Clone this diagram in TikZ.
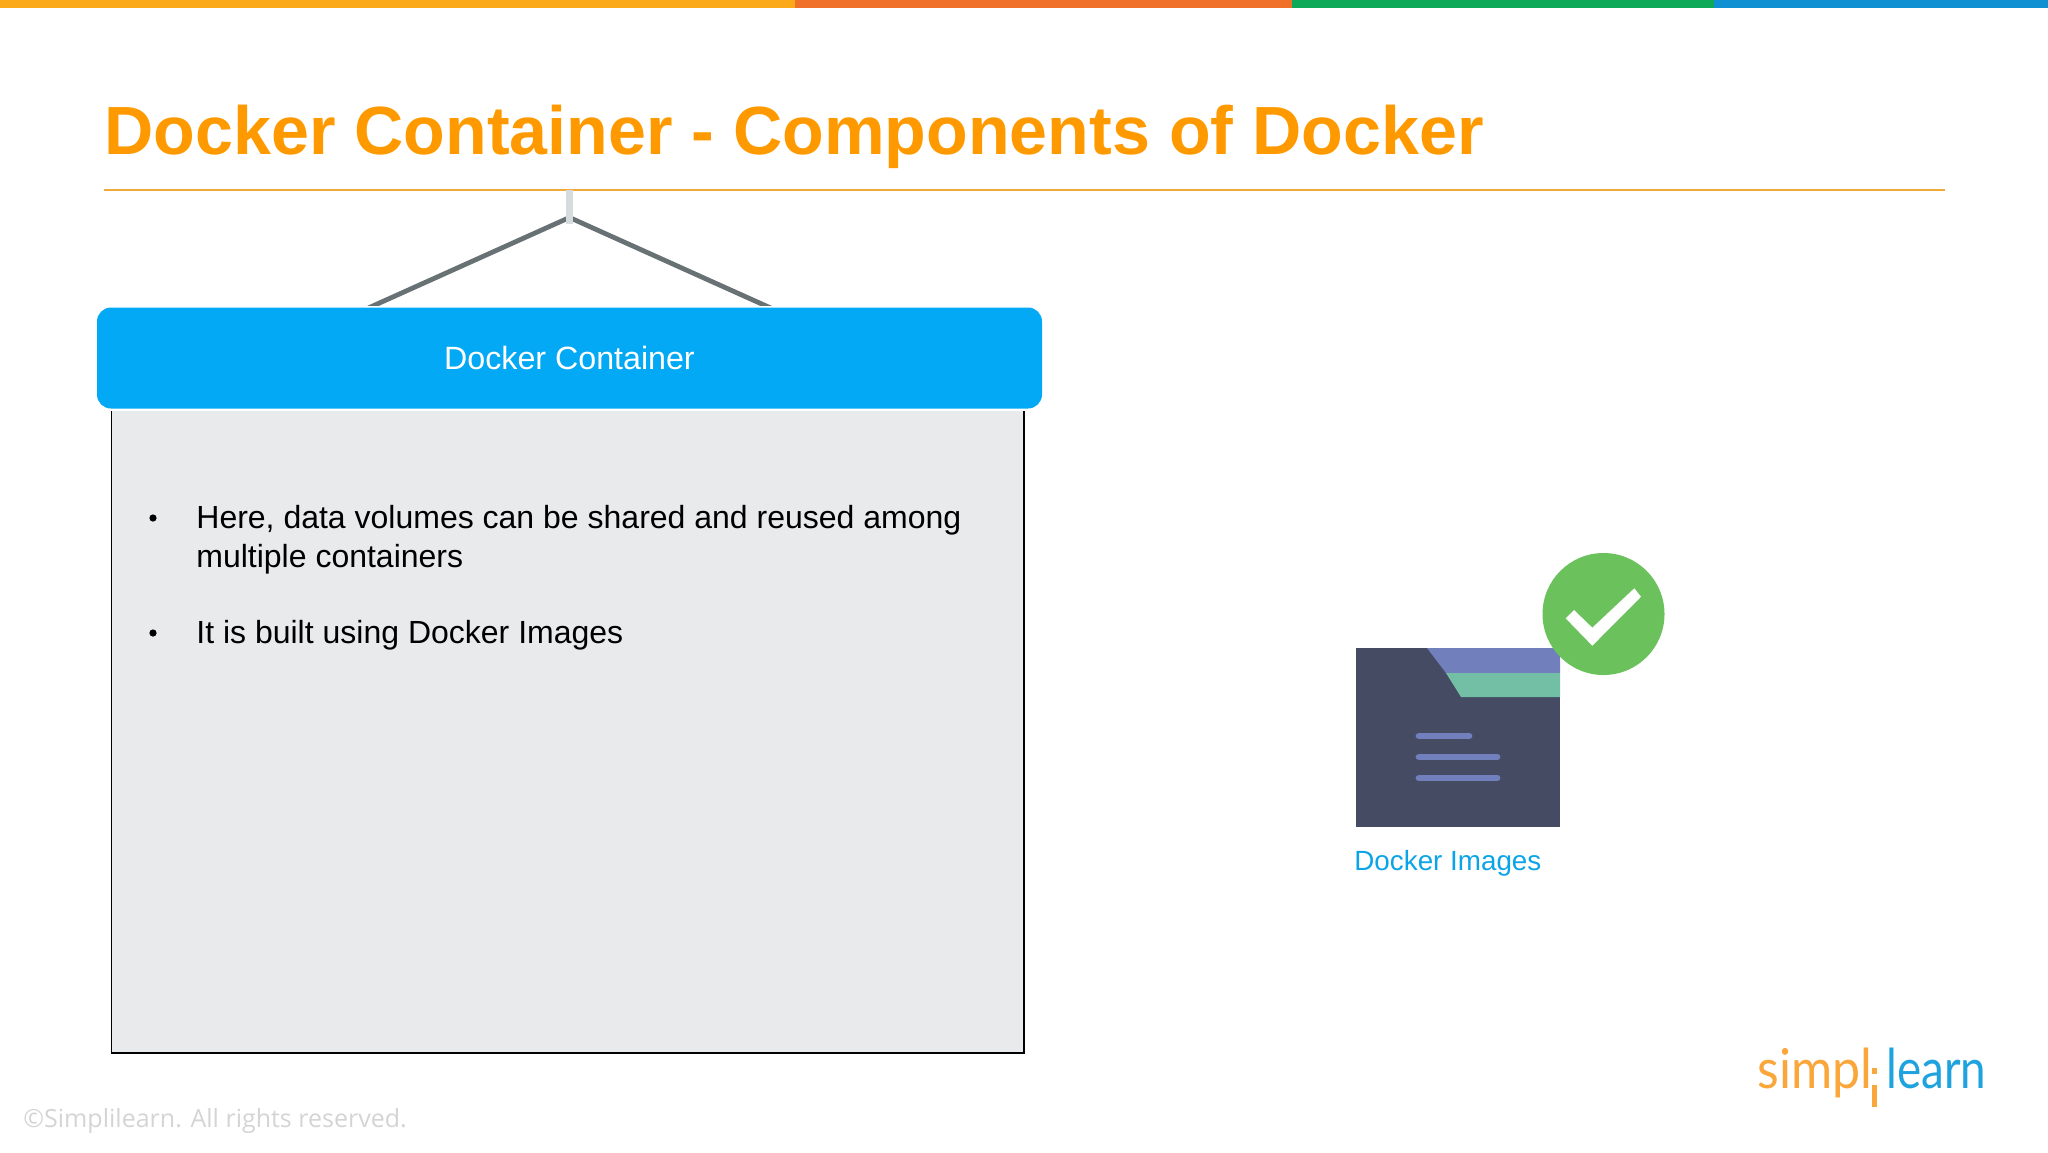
\documentclass[tikz,border=0pt]{standalone}
\usepackage{fontspec}
\setmainfont{Liberation Sans}
\newfontfamily\copyfont{Open Sans}
\newfontfamily\logofont{Lato}
\usetikzlibrary{positioning, calc}

\definecolor{barorange}{HTML}{FBA919}
\definecolor{barred}{HTML}{F0702A}
\definecolor{bargreen}{HTML}{0DA858}
\definecolor{barblue}{HTML}{0E90D2}
\definecolor{titleorange}{HTML}{FF9900}
\definecolor{ruleorange}{HTML}{F2A93B}
\definecolor{headblue}{HTML}{03A9F4}
\definecolor{bodygrey}{HTML}{E9EAEC}
\definecolor{hangergrey}{HTML}{687173}
\definecolor{peggrey}{HTML}{D6DBDD}
\definecolor{folderdark}{HTML}{454B63}
\definecolor{folderpurple}{HTML}{7180BD}
\definecolor{foldergreen}{HTML}{72BFA5}
\definecolor{checkgreen}{HTML}{6BC25C}
\definecolor{imagesblue}{HTML}{0CA4E6}
\definecolor{logoorange}{HTML}{F9A63A}
\definecolor{logoblue}{HTML}{1FA3DF}
\definecolor{copygrey}{HTML}{D4D4D4}

\begin{document}
\begin{tikzpicture}[
    x=0.5pt, y=-0.5pt,
    bar/.style={minimum height=4pt, inner sep=0pt, outer sep=0pt, anchor=north west},
    title/.style={font=\fontsize{34.1}{40}\selectfont\bfseries, text=titleorange, inner sep=0pt},
    hanger/.style={draw=hangergrey, line width=2.4pt},
    head/.style={
        rectangle,
        fill=headblue,
        text=white,
        minimum width=472.5pt,
        minimum height=50.5pt,
        rounded corners=7pt,
        inner sep=0pt,
        font=\fontsize{16.1}{20}\selectfont
    },
    body/.style={
        rectangle,
        fill=bodygrey,
        minimum width=456pt,
        minimum height=320.75pt,
        inner sep=0pt
    },
    item/.style={font=\fontsize{16}{19.5}\selectfont, align=left, inner sep=0pt, anchor=west},
    dot/.style={circle, fill=black, minimum size=3.6pt, inner sep=0pt},
    docline/.style={draw=folderpurple, line width=3.4pt, line cap=round},
    logotext/.style={font=\logofont\fontsize{27.5}{30}\selectfont, anchor=base west, inner sep=0pt, transform shape}
]

% Top bar
\node[bar, fill=barorange, minimum width=397.5pt] (barone) at (0,0) {};
\node[bar, fill=barred, minimum width=248.5pt] (bartwo) at (795,0) {};
\node[bar, fill=bargreen, minimum width=211pt] (barthree) at (1292,0) {};
\node[bar, fill=barblue, minimum width=167pt] (barfour) at (1714,0) {};

% Title
\node[title, anchor=base west] (title) at (104,154) {Docker Container - Components of Docker};
\coordinate (ruleleft) at (104,190);
\coordinate (ruleright) at (1945,190);
\draw[ruleorange, line width=1pt] (ruleleft) -- (ruleright);

% Hanger
\coordinate (hangleft) at (375,305);
\coordinate (hangright) at (764,305);
\coordinate (hangtop) at (569.5,217.5);
\begin{scope}
\clip (0,190) rectangle (2048,305);
\draw[hanger] ($(hangleft)!-0.1!(hangtop)$) -- (hangtop);
\draw[hanger] ($(hangright)!-0.1!(hangtop)$) -- (hangtop);
\end{scope}
\node[fill=peggrey, minimum width=3.6pt, minimum height=17pt, inner sep=0pt, anchor=north] (peg) at (569.5,190) {};

% Container panel
\node[body, anchor=north west] (panel) at (111.5,411) {};
\draw[black, line width=0.9pt] (panel.north west) -- (panel.south west) -- (panel.south east) -- (panel.north east);
\node[head] (head) at (569.5,358) {Docker Container};

% Panel text
\node[item] (itemone) at (196,539.5) {Here, data volumes can be shared and reused among\\multiple containers};
\node[item] (itemtwo) at (196,635.5) {It is built using Docker Images};
\node[dot] (dotone) at (153,518) {};
\node[dot] (dottwo) at (153,633) {};

% Folder icon
\fill[folderdark] (1356,648) rectangle (1560,827);
\fill[folderpurple] (1427,648) -- (1560,648) -- (1560,673) -- (1446,673) -- cycle;
\fill[foldergreen] (1446,673) -- (1560,673) -- (1560,697) -- (1461,697) -- cycle;
\draw[docline] (1419,736) -- (1469,736);
\draw[docline] (1419,757) -- (1497,757);
\draw[docline] (1419,778) -- (1497,778);

% Check badge
\fill[checkgreen] (1603.5,614) circle [radius=61];
\fill[white] (1565.7,618.3) -- (1574,610) -- (1592.3,627.7) -- (1634.3,588.3) -- (1641,596.7) -- (1592.3,645.7) -- cycle;

\node[font=\fontsize{13.9}{17}\selectfont, text=imagesblue, anchor=west, inner sep=0pt] (images) at (1354,863) {Docker Images};

% Logo
\node[logotext, text=logoorange, xscale=0.91] (logosimpl) at (1757,1088) {simpl};
\node[logotext, text=logoblue, xscale=0.833] (logolearn) at (1886,1088) {learn};
\fill[logoorange] (1872,1068) rectangle (1877,1074);
\fill[logoorange] (1872,1085) rectangle (1877,1107);

% Copyright
\node[font=\copyfont\fontsize{12.5}{16}\selectfont, text=copygrey, anchor=west, inner sep=0pt] (copy) at (23,1120.5) {©Simplilearn. All rights reserved.};

\useasboundingbox (0,0) rectangle (2048,1152);
\end{tikzpicture}
\end{document}
